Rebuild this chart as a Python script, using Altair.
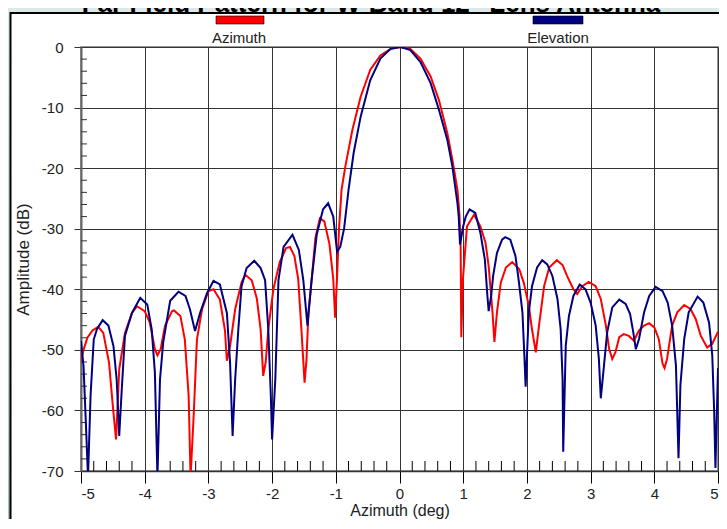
import altair as alt
import pandas as pd

# ---------------- data ----------------
series_names = ["Azimuth", "Elevation"]
series_colors = ["#ff0000", "#000080"]

az_deg = [-5.00, -4.96, -4.90, -4.82, -4.73, -4.65, -4.56, -4.50, -4.45, -4.40,
          -4.31, -4.20, -4.12, -4.00, -3.92, -3.84, -3.80, -3.75, -3.68, -3.57,
          -3.54, -3.44, -3.37, -3.31, -3.28, -3.23, -3.18, -3.10, -3.00, -2.92,
          -2.82, -2.74, -2.71, -2.66, -2.58, -2.48, -2.42, -2.32, -2.24, -2.18,
          -2.14, -2.10, -2.06, -1.98, -1.88, -1.78, -1.72, -1.65, -1.59, -1.54,
          -1.49, -1.46, -1.43, -1.38, -1.32, -1.25, -1.18, -1.10, -1.04, -1.01,
          -0.98, -0.95, -0.91, -0.85, -0.74, -0.61, -0.46, -0.30, -0.14, 0.00,
          0.17, 0.33, 0.49, 0.62, 0.75, 0.83, 0.91, 0.94, 0.96, 0.97,
          0.995, 1.06, 1.17, 1.27, 1.35, 1.40, 1.46, 1.49, 1.53, 1.59,
          1.67, 1.77, 1.88, 1.95, 2.03, 2.08, 2.14, 2.19, 2.27, 2.35,
          2.47, 2.56, 2.63, 2.73, 2.79, 2.87, 2.97, 3.08, 3.16, 3.24,
          3.29, 3.34, 3.39, 3.45, 3.52, 3.60, 3.68, 3.76, 3.84, 3.92,
          4.00, 4.07, 4.13, 4.16, 4.20, 4.28, 4.36, 4.47, 4.57, 4.65,
          4.73, 4.83, 4.91, 5.00]
az_db = [-51.8, -50.0, -48.0, -46.8, -46.2, -47.2, -52.1, -59.3, -64.8, -53.2,
         -47.2, -43.9, -42.8, -43.6, -45.5, -49.9, -50.9, -49.9, -46.0, -43.6,
         -43.5, -44.4, -48.3, -57.6, -71.0, -60.6, -48.3, -43.3, -40.3, -40.0,
         -41.7, -46.8, -51.8, -49.4, -43.3, -38.9, -37.6, -38.5, -41.5, -46.6,
         -54.3, -52.0, -46.6, -40.0, -35.5, -33.2, -33.0, -34.5, -38.3, -46.6,
         -55.4, -51.6, -43.9, -38.5, -31.5, -28.3, -28.8, -32.5, -38.3, -44.7,
         -38.0, -30.1, -23.6, -19.7, -13.7, -8.2, -3.8, -1.4, -0.3, 0.0,
         -0.3, -1.9, -4.9, -8.8, -14.2, -18.6, -23.6, -27.5, -33.0, -47.9,
         -38.4, -29.6, -27.7, -29.6, -32.3, -36.2, -43.8, -48.7, -43.8, -38.9,
         -36.4, -35.5, -36.7, -38.9, -42.7, -46.6, -50.4, -46.0, -39.5, -36.4,
         -35.2, -36.0, -37.8, -40.0, -40.8, -39.5, -38.8, -39.5, -41.6, -46.0,
         -49.8, -51.5, -50.4, -47.9, -47.4, -47.7, -48.5, -46.8, -46.0, -45.6,
         -46.3, -48.2, -52.3, -53.0, -51.5, -46.0, -43.8, -42.6, -43.3, -44.9,
         -47.7, -49.6, -49.0, -47.0]

el_deg = [-5.00, -4.96, -4.93, -4.89, -4.85, -4.80, -4.75, -4.66, -4.57, -4.49,
          -4.44, -4.40, -4.36, -4.31, -4.20, -4.07, -3.96, -3.89, -3.84, -3.80,
          -3.76, -3.71, -3.60, -3.47, -3.36, -3.29, -3.21, -3.13, -3.02, -2.92,
          -2.82, -2.71, -2.66, -2.62, -2.58, -2.53, -2.48, -2.40, -2.28, -2.18,
          -2.11, -2.06, -2.02, -2.00, -1.95, -1.90, -1.82, -1.68, -1.58, -1.51,
          -1.445, -1.38, -1.30, -1.20, -1.12, -1.04, -0.98, -0.93, -0.87, -0.80,
          -0.72, -0.61, -0.46, -0.30, -0.14, 0.02, 0.17, 0.33, 0.49, 0.62,
          0.75, 0.83, 0.91, 0.93, 0.95, 1.00, 1.04, 1.10, 1.19, 1.27,
          1.34, 1.38, 1.40, 1.44, 1.47, 1.53, 1.61, 1.66, 1.74, 1.82,
          1.87, 1.93, 1.96, 1.98, 2.03, 2.08, 2.16, 2.24, 2.32, 2.40,
          2.48, 2.53, 2.56, 2.57, 2.61, 2.66, 2.73, 2.83, 2.92, 3.00,
          3.08, 3.13, 3.16, 3.21, 3.26, 3.34, 3.45, 3.55, 3.62, 3.67,
          3.71, 3.76, 3.84, 3.92, 4.02, 4.13, 4.21, 4.28, 4.34, 4.38,
          4.41, 4.47, 4.54, 4.68, 4.77, 4.86, 4.91, 4.94, 4.96, 5.00]
el_db = [-48.5, -52.7, -60.4, -71.0, -57.6, -48.3, -46.6, -45.1, -46.0, -49.4,
         -54.9, -64.2, -56.5, -47.7, -43.9, -41.4, -42.5, -46.6, -53.8, -71.0,
         -54.9, -48.8, -41.9, -40.4, -41.1, -43.3, -46.9, -43.9, -40.6, -38.6,
         -39.2, -43.9, -52.1, -64.2, -54.9, -46.6, -39.5, -36.5, -35.3, -36.5,
         -38.5, -46.6, -57.6, -64.8, -54.9, -38.5, -33.0, -31.0, -33.5, -38.5,
         -46.0, -38.5, -31.0, -26.8, -25.8, -28.0, -33.8, -33.0, -30.0, -23.6,
         -17.5, -11.5, -5.5, -1.9, -0.3, 0.0, -0.5, -2.5, -6.0, -10.4,
         -15.3, -19.7, -25.8, -28.0, -32.6, -29.6, -28.0, -26.8, -27.4, -30.7,
         -35.1, -41.1, -43.6, -41.0, -37.8, -34.0, -31.8, -31.4, -31.8, -34.5,
         -38.4, -43.8, -50.9, -56.1, -43.8, -39.5, -36.4, -35.2, -35.9, -37.8,
         -41.6, -46.6, -54.8, -66.8, -49.3, -44.4, -41.1, -39.2, -40.0, -42.2,
         -46.0, -51.5, -58.0, -52.6, -47.1, -43.0, -41.7, -42.4, -44.1, -47.1,
         -49.9, -48.2, -43.8, -41.1, -39.6, -40.3, -42.2, -46.0, -52.6, -67.9,
         -55.8, -48.2, -43.8, -41.2, -42.2, -45.5, -50.9, -60.2, -69.5, -53.0]

x_ticks = [-5, -4, -3, -2, -1, 0, 1, 2, 3, 4, 5]
y_ticks = [0, -10, -20, -30, -40, -50, -60, -70]
x_minor = [-4.8, -4.6, -4.4, -4.2, -3.8, -3.6, -3.4, -3.2, -2.8, -2.6, -2.4, -2.2,
           -1.8, -1.6, -1.4, -1.2, -0.8, -0.6, -0.4, -0.2, 0.2, 0.4, 0.6, 0.8,
           1.2, 1.4, 1.6, 1.8, 2.2, 2.4, 2.6, 2.8, 3.2, 3.4, 3.6, 3.8,
           4.2, 4.4, 4.6, 4.8]
y_minor = [-2, -4, -6, -8, -12, -14, -16, -18, -22, -24, -26, -28, -32, -34, -36, -38,
           -42, -44, -46, -48, -52, -54, -56, -58, -62, -64, -66, -68]

title_text = "Far Field Pattern for W-Band 12\" Lens Antenna"

# ---------------- layout ----------------
W, H = 637, 424
FONT = "Liberation Sans"

df = pd.concat([
    pd.DataFrame({"deg": az_deg, "db": az_db, "series": series_names[0]}),
    pd.DataFrame({"deg": el_deg, "db": el_db, "series": series_names[1]}),
])

xscale = alt.Scale(domain=[-5, 5], nice=False, zero=False)
yscale = alt.Scale(domain=[-70, 0], nice=False, zero=False)

x_axis = alt.Axis(values=x_ticks, tickSize=12, tickColor="#000", labelFontSize=15,
                  labelFont=FONT, labelColor="#222", labelPadding=3,
                  labelExpr="'' + datum.value",
                  title="Azimuth (deg)", titleFont=FONT, titleFontSize=16,
                  titleFontWeight="normal", titleColor="#222", titlePadding=1,
                  grid=True, gridColor="#333", gridWidth=1,
                  domainColor="#333", domainWidth=1.5)
y_axis = alt.Axis(values=y_ticks, tickSize=7, tickColor="#333", labelFontSize=15,
                  labelFont=FONT, labelColor="#222", labelPadding=11,
                  labelExpr="'' + datum.value",
                  title="Amplitude (dB)", titleFont=FONT, titleFontSize=17,
                  titleFontWeight="normal", titleColor="#222", titlePadding=9,
                  grid=True, gridColor="#333", gridWidth=1,
                  domainColor="#666", domainWidth=2)

lines = []
for name, col in zip(series_names, series_colors):
    lines.append(
        alt.Chart(df[df.series == name]).mark_line(color=col, strokeWidth=2, clip=True).encode(
            x=alt.X("deg:Q", scale=xscale, axis=x_axis),
            y=alt.Y("db:Q", scale=yscale, axis=y_axis),
        )
    )

xminor = alt.Chart(pd.DataFrame({"deg": x_minor})).mark_rule(color="#000", strokeWidth=1).encode(
    x=alt.X("deg:Q", scale=xscale, axis=x_axis),
    y=alt.value(H), y2=alt.value(H - 10),
)
yminor = alt.Chart(pd.DataFrame({"db": y_minor})).mark_rule(color="#333", strokeWidth=1).encode(
    y=alt.Y("db:Q", scale=yscale, axis=y_axis),
    x=alt.value(0), x2=alt.value(6),
)

one = pd.DataFrame({"k": [0]})
top_strip = alt.Chart(one).mark_rect(color="#dde8e8").encode(
    x=alt.value(-75), x2=alt.value(W + 30), y=alt.value(-40), y2=alt.value(-34.5))
left_strip = alt.Chart(one).mark_rect(
    fill=alt.LinearGradient(gradient="linear", x1=0, x2=0, y1=0, y2=1,
                            stops=[alt.GradientStop(color="#dde8e8", offset=0),
                                   alt.GradientStop(color="#9fc3c3", offset=1)])
).encode(x=alt.value(-75), x2=alt.value(-71), y=alt.value(-40), y2=alt.value(H + 60))
border = alt.Chart(one).mark_rect(filled=False, stroke="#000", strokeWidth=2).encode(
    x=alt.value(-70.5), x2=alt.value(W + 40), y=alt.value(-34), y2=alt.value(H + 49))

title = alt.Chart(pd.DataFrame({"t": [title_text]})).mark_text(
    font=FONT, fontSize=26, fontWeight="bold", color="#000",
    baseline="alphabetic", align="center").encode(
    text="t:N", x=alt.value(290), y=alt.value(-35.5))

legend_layers = []
legend_pos = [(135, 183, 158), (452, 502, 477)]
for name, col, (lx1, lx2, lxc) in zip(series_names, series_colors, legend_pos):
    sw = alt.Chart(pd.DataFrame({"s": [name]})).mark_rect(
        color=col, stroke="#000", strokeWidth=0.6).encode(
        x=alt.value(lx1), x2=alt.value(lx2), y=alt.value(-31), y2=alt.value(-23))
    tx = alt.Chart(pd.DataFrame({"s": [name]})).mark_text(
        font=FONT, fontSize=15, color="#222", baseline="middle", align="center").encode(
        text="s:N", x=alt.value(lxc), y=alt.value(-9.5))
    legend_layers += [sw, tx]

chart = alt.layer(
    top_strip, left_strip, title, border, *legend_layers, xminor, yminor, *lines
).properties(
    width=W, height=H,
    padding={"left": 73, "top": 39, "right": 1, "bottom": 48},
    autosize=alt.AutoSizeParams(type="none"),
    background="white",
).configure_view(stroke="#777", strokeWidth=1.5)

chart.save("out.html", embed_options={"renderer": "svg", "actions": False})
